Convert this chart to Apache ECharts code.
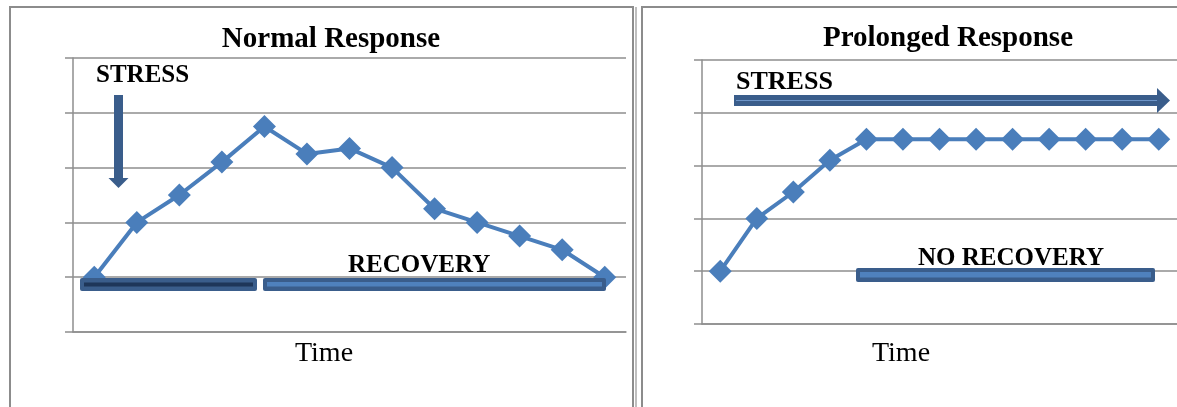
<!DOCTYPE html>
<html>
<head>
<meta charset="utf-8">
<script src="https://cdn.jsdelivr.net/npm/echarts@6/dist/echarts.min.js"></script>
<style>
  html, body { margin: 0; padding: 0; background: #fff; }
  #main { width: 1177px; height: 407px; }
</style>
</head>
<body>
<div id="main"></div>
<script>
// data
var normalTime = ['1', '2', '3', '4', '5', '6', '7', '8', '9', '10', '11', '12', '13'];
var normalLevel = [1, 2, 2.5, 3.1, 3.75, 3.25, 3.35, 3, 2.25, 2, 1.75, 1.5, 1];

var prolongedTime = ['1', '2', '3', '4', '5', '6', '7', '8', '9', '10', '11', '12', '13'];
var prolongedLevel = [1, 2, 2.5, 3.1, 3.5, 3.5, 3.5, 3.5, 3.5, 3.5, 3.5, 3.5, 3.5];

var yMin = 0, yMax = 5, yStep = 1;

var chart = echarts.init(document.getElementById('main'));

var gridGray = '#8e8e8e';
var lineBlue = '#4a7ebb';
var darkBlue = '#3a5d8b';
var serif = '"Liberation Serif", "DejaVu Serif", serif';

function xAxisFor(idx, cats) {
    return {
        type: 'category',
        gridIndex: idx,
        data: cats,
        boundaryGap: true,
        axisLine: { show: true, lineStyle: { color: gridGray, width: 1.5 } },
        axisTick: { show: false },
        axisLabel: { show: false }
    };
}

function yAxisFor(idx) {
    return {
        type: 'value',
        gridIndex: idx,
        min: yMin,
        max: yMax,
        interval: yStep,
        axisLine: { show: true, lineStyle: { color: gridGray, width: 1.5 } },
        axisTick: { show: true, length: 8, lineStyle: { color: gridGray, width: 1.5 } },
        axisLabel: { show: false },
        splitLine: { show: true, lineStyle: { color: gridGray, width: 1.5 } }
    };
}

function lineSeries(idx, vals) {
    return {
        type: 'line',
        xAxisIndex: idx,
        yAxisIndex: idx,
        data: vals,
        symbol: 'diamond',
        symbolSize: 23,
        showAllSymbol: true,
        lineStyle: { color: lineBlue, width: 4 },
        itemStyle: { color: lineBlue },
        z: 3
    };
}

function label(text, x, y, size, bold, align) {
    return {
        type: 'text',
        z: 120,
        style: {
            text: text,
            x: x,
            y: y,
            fill: '#000',
            font: (bold ? 'bold ' : '') + size + 'px ' + serif,
            textAlign: align || 'left',
            textVerticalAlign: 'middle'
        }
    };
}

var option = {
    animation: false,
    backgroundColor: '#fff',
    grid: [
        { left: 73, top: 58, width: 553, height: 274 },
        { left: 702, top: 60, width: 484, height: 264 }
    ],
    xAxis: [xAxisFor(0, normalTime), xAxisFor(1, prolongedTime)],
    yAxis: [yAxisFor(0), yAxisFor(1)],
    series: [lineSeries(0, normalLevel), lineSeries(1, prolongedLevel)],
    graphic: [
        // panel frames
        { type: 'polyline', z: 1, shape: { points: [[10, 420], [10, 7], [633, 7], [633, 420]] },
          style: { stroke: '#8c8c8c', lineWidth: 2, fill: null } },
        { type: 'line', z: 1, shape: { x1: 636, y1: 7, x2: 636, y2: 420 },
          style: { stroke: '#a8a8a8', lineWidth: 1.5 } },
        { type: 'polyline', z: 1, shape: { points: [[642, 420], [642, 7], [1180, 7]] },
          style: { stroke: '#8c8c8c', lineWidth: 2, fill: null } },

        // titles
        label('Normal Response', 331, 40, 29, true, 'center'),
        label('Prolonged Response', 948, 39, 29, true, 'center'),

        // stress labels and arrows
        label('STRESS', 96, 76, 25, true),
        { type: 'rect', z: 110, shape: { x: 114, y: 95, width: 9, height: 83 }, style: { fill: darkBlue } },
        { type: 'polygon', z: 110, shape: { points: [[108.5, 178], [128.5, 178], [118.5, 188]] }, style: { fill: darkBlue } },

        label('STRESS', 736, 82, 26, true),
        { type: 'rect', z: 110, shape: { x: 734, y: 95, width: 424, height: 11 }, style: { fill: darkBlue } },
        { type: 'line', z: 111, shape: { x1: 736, y1: 100.5, x2: 1157, y2: 100.5 }, style: { stroke: '#6d95c9', lineWidth: 1 } },
        { type: 'polygon', z: 110, shape: { points: [[1157, 88], [1157, 113], [1170, 100.5]] }, style: { fill: darkBlue } },

        // recovery bars
        { type: 'rect', z: 110, shape: { x: 80, y: 278, width: 177, height: 13, r: 2 }, style: { fill: darkBlue } },
        { type: 'rect', z: 111, shape: { x: 84, y: 282.5, width: 169, height: 4 }, style: { fill: '#1e3659' } },
        { type: 'rect', z: 110, shape: { x: 263, y: 278, width: 343, height: 13, r: 2 }, style: { fill: darkBlue } },
        { type: 'rect', z: 111, shape: { x: 267, y: 282, width: 335, height: 4.5 }, style: { fill: '#4f81bd' } },
        label('RECOVERY', 348, 266, 25, true),

        { type: 'rect', z: 110, shape: { x: 856, y: 268, width: 299, height: 14, r: 2 }, style: { fill: darkBlue } },
        { type: 'rect', z: 111, shape: { x: 860, y: 272, width: 291, height: 5.5 }, style: { fill: '#4f81bd' } },
        label('NO RECOVERY', 918, 259, 25, true),

        // axis captions
        label('Time', 324, 354, 28, false, 'center'),
        label('Time', 901, 354, 28, false, 'center')
    ]
};

chart.setOption(option);
</script>
</body>
</html>
